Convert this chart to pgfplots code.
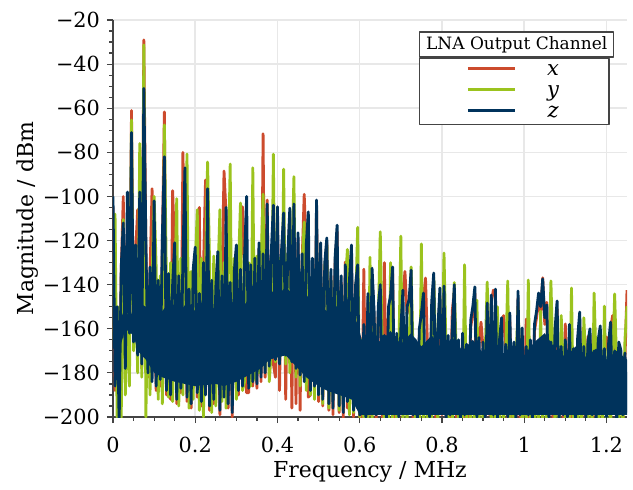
\documentclass[border=0pt]{standalone}
\usepackage{fontspec}
\setmainfont{DejaVu Serif}
\usepackage{pgfplots}
\pgfplotsset{compat=1.18}
\usepackage{pgfplotstable}
\usetikzlibrary{calc}
\definecolor{chx}{HTML}{CC4B2D}
\definecolor{chy}{HTML}{9BC31E}
\definecolor{chz}{HTML}{00335C}
\definecolor{gridgray}{HTML}{E8E8E8}
\definecolor{axgray}{HTML}{444444}

% spectrum of the three channels, MHz vs dBm
\pgfplotstableread{
x r g b
0.000 -105 -165 -100
0.005 -188 -108 -186
0.010 -152 -200 -150
0.015 -200 -150 -203
0.020 -134 -201 -132
0.025 -100 -110.5 -112
0.030 -176 -190 -178
0.035 -120 -145 -98
0.040 -165 -186 -162
0.045 -61 -65.4 -71
0.050 -168 -170 -166
0.055 -125 -135 -122
0.060 -106 -180 -172
0.065 -130 -76 -98
0.070 -178 -182 -176
0.075 -29 -31.3 -51
0.080 -124 -200 -120
0.085 -182 -140 -180
0.090 -135 -190 -132
0.095 -96.5 -138 -184
0.100 -140 -100 -102
0.105 -188 -132 -186
0.110 -140 -192 -138
0.115 -186 -136 -183
0.120 -121 -194 -118
0.125 -61.7 -67.6 -82
0.130 -190 -140 -188
0.135 -138 -191 -135
0.140 -192 -130 -190
0.145 -97.4 -193 -140
0.150 -124 -145 -121
0.155 -194 -101 -192
0.160 -139 -195 -136
0.165 -189 -128 -187
0.170 -80 -190 -128
0.175 -132 -135 -87
0.180 -193 -80.8 -191
0.185 -145 -196 -142
0.190 -196 -134 -194
0.195 -136 -192 -133
0.200 -126 -131 -123
0.205 -191 -106 -189
0.210 -105 -197 -144
0.215 -195 -128 -193
0.220 -133 -200 -130
0.225 -92.6 -133 -190
0.230 -140 -84.4 -96.5
0.235 -197 -131 -195
0.240 -141 -198 -138
0.245 -194 -127 -192
0.250 -144 -195 -141
0.255 -128 -137 -125
0.260 -199 -106 -197
0.265 -139 -193 -136
0.270 -88.5 -130 -191
0.275 -108 -196 -105
0.280 -196 -134 -194
0.285 -142 -85.3 -139
0.290 -200 -190 -198
0.295 -130 -128 -134
0.300 -125 -192 -122
0.305 -190 -132 -188
0.310 -136 -103 -133
0.315 -104.7 -188 -186
0.320 -130 -184 -127
0.325 -189 -135 -100
0.330 -189 -130 -187
0.335 -134 -186 -131
0.340 -186 -87 -184
0.345 -131 -183 -128
0.350 -187 -127 -185
0.355 -124 -180 -121
0.360 -184 -130 -182
0.365 -71.6 -99 -126
0.370 -182 -178 -180
0.375 -101.6 -128 -103.4
0.380 -179 -184 -177
0.385 -128 -170 -125
0.390 -176 -80.8 -104
0.395 -182 -175 -174
0.400 -107 -165 -104.7
0.405 -188 -128 -176
0.410 -127 -172 -124
0.415 -110 -87.6 -107.5
0.420 -192 -176 -172
0.425 -130 -126 -127
0.430 -108 -180 -105.3
0.435 -196 -130 -175
0.440 -106 -91 -103.4
0.445 -194 -182 -178
0.450 -119 -128 -116.5
0.455 -197 -186 -181
0.460 -129 -131 -126
0.465 -99 -111.6 -184
0.470 -125 -188 -122
0.475 -191 -129 -107
0.480 -190 -190 -188
0.485 -131 -134 -128
0.490 -189 -192 -186
0.495 -104 -118 -101.6
0.500 -193 -190 -190
0.505 -124 -135 -121
0.510 -195 -194 -192
0.515 -133 -132 -130
0.520 -121 -122 -118.8
0.525 -197 -196 -194
0.530 -136 -138 -133
0.535 -199 -192 -196
0.540 -131 -140 -128
0.545 -116 -125 -113
0.550 -198 -197 -195
0.555 -139 -141 -136
0.560 -201 -195 -198
0.565 -129.7 -140 -131
0.570 -196 -124 -193
0.575 -141 -199 -138
0.580 -125 -145 -122
0.585 -200 -198 -197
0.590 -141 -150 -140
0.595 -134 -114 -131
0.600 -202 -200 -199
0.605 -201 -165 -198
0.610 -133 -203 -158
0.615 -202 -170 -200
0.620 -147 -204 -144
0.625 -199 -127.6 -196
0.630 -136 -202 -132.5
0.635 -155 -160 -152
0.640 -202 -175 -199
0.645 -153 -158 -150
0.650 -143 -116 -140
0.655 -200 -172 -197
0.660 -130 -205 -163
0.665 -203 -170 -201
0.670 -153 -204 -150
0.675 -148 -130 -145
0.680 -135 -203 -132
0.685 -201 -168 -198
0.690 -165 -204 -162
0.695 -203 -172 -200
0.700 -163 -118 -160
0.705 -145 -203 -142.5
0.710 -134 -171 -196
0.715 -153 -205 -150
0.720 -150 -170 -147
0.725 -137 -132 -133.4
0.730 -202 -174 -199
0.735 -168 -204 -165
0.740 -204 -172 -202
0.745 -163 -203 -160
0.750 -156 -121.5 -153
0.755 -147 -204 -143.8
0.760 -137 -170 -197
0.765 -169 -205 -166
0.770 -203 -173 -200
0.775 -151 -204 -148
0.780 -138 -136.6 -134.7
0.785 -201 -172 -198
0.790 -163 -203 -160
0.795 -145 -168 -141.5
0.800 -199 -174 -196
0.805 -144 -125.7 -140.6
0.810 -204 -171 -201
0.815 -166 -205 -163
0.820 -202 -173 -199
0.825 -152 -204 -160
0.830 -143 -139 -140
0.835 -200 -174 -197
0.840 -168 -203 -165
0.845 -204 -172 -202
0.850 -165 -205 -162
0.855 -202 -131 -199
0.860 -170 -204 -167
0.865 -201 -173 -198
0.870 -159 -203 -156
0.875 -153 -175 -150
0.880 -144 -204 -141
0.885 -203 -147 -200
0.890 -167 -205 -164
0.895 -157 -174 -197
0.900 -169 -204 -166
0.905 -205 -172 -203
0.910 -151 -138.8 -148.3
0.915 -199 -174 -196
0.920 -148 -203 -144.7
0.925 -142.5 -173 -199
0.930 -145 -205 -142
0.935 -204 -150 -201
0.940 -168 -203 -165
0.945 -158 -175 -155
0.950 -154 -204 -198
0.955 -170 -173 -167
0.960 -203 -138.3 -200
0.965 -156 -205 -152.8
0.970 -200 -174 -197
0.975 -169 -204 -166
0.980 -204 -175 -202
0.985 -146 -150 -142.9
0.990 -202 -176 -199
0.995 -163 -204 -159.6
1.000 -199 -174 -196
1.005 -155.6 -205 -168
1.010 -202 -137.9 -199
1.015 -168 -204 -165
1.020 -204 -176 -201
1.025 -161 -205 -158
1.030 -155 -175 -152
1.035 -147 -204 -143.8
1.040 -153 -152 -150
1.045 -136.9 -203 -137.4
1.050 -158 -174 -155
1.055 -148 -205 -149.2
1.060 -203 -176 -200
1.065 -169 -138.3 -166
1.070 -201 -175 -198
1.075 -163 -204 -160
1.080 -151 -176 -147.4
1.085 -204 -205 -202
1.090 -171 -154 -168
1.095 -202 -177 -199
1.100 -157.8 -204 -165
1.105 -203 -175 -200
1.110 -161 -205 -158
1.115 -200 -141.5 -197
1.120 -172 -204 -169
1.125 -205 -176 -203
1.130 -167 -203 -164
1.135 -156 -177 -152.4
1.140 -201 -205 -198
1.145 -171 -155 -168
1.150 -204 -176 -201
1.155 -163.7 -204 -166
1.160 -163 -177 -160
1.165 -202 -205 -199
1.170 -173 -143.8 -170
1.175 -204 -176 -202
1.180 -168 -204 -165
1.185 -162 -178 -158.7
1.190 -201 -205 -198
1.195 -172 -149.7 -169
1.200 -163.7 -204 -200
1.205 -170 -177 -167
1.210 -160 -205 -157
1.215 -154 -176 -197
1.220 -173 -144.2 -170
1.225 -205 -178 -203
1.230 -169 -204 -166
1.235 -172 -177 -169.6
1.240 -202 -205 -199
1.245 -174 -165 -171
1.250 -142.5 -149.7 -198
}\spec

% dense core of the z noise floor (upper edge, then lower edge back)
\pgfplotstableread{
x y
0.012 -168
0.020 -155
0.030 -150
0.040 -156
0.050 -150
0.060 -152
0.070 -149
0.080 -150
0.100 -148
0.120 -152
0.140 -147
0.160 -153
0.180 -148
0.200 -152
0.220 -147
0.240 -152
0.260 -146
0.280 -150
0.300 -146
0.320 -149
0.340 -144
0.360 -147
0.380 -142
0.400 -145
0.420 -141
0.440 -145
0.460 -142
0.480 -147
0.500 -149
0.520 -152
0.540 -149
0.560 -154
0.580 -152
0.595 -158
0.605 -165
0.625 -160
0.650 -166
0.675 -161
0.700 -167
0.725 -162
0.750 -168
0.775 -163
0.800 -169
0.825 -164
0.850 -170
0.875 -165
0.900 -171
0.925 -166
0.950 -172
0.975 -167
1.000 -172
1.025 -166
1.050 -162
1.075 -169
1.100 -173
1.125 -168
1.150 -173
1.175 -169
1.200 -174
1.225 -170
1.250 -174
1.250 -199
0.600 -199
0.580 -192
0.550 -190
0.520 -188
0.500 -186
0.470 -182
0.440 -176
0.420 -172
0.400 -173
0.380 -174
0.360 -178
0.330 -181
0.300 -184
0.270 -186
0.250 -185
0.200 -186
0.150 -184
0.120 -182
0.100 -180
0.080 -174
0.060 -170
0.050 -163
0.030 -160
0.012 -172
}\core

\begin{document}
\begin{tikzpicture}
\begin{axis}[
    scale only axis, width=257pt, height=198.5pt,
    xmin=0, xmax=1.25, ymin=-200, ymax=-20,
    axis x line*=bottom, axis y line*=left,
    axis line style={draw=axgray, line width=0.7pt},
    tick style={draw=axgray, line width=0.6pt},
    tick align=outside,
    major tick length=3pt, minor tick length=1.8pt,
    xtick={0,0.2,0.4,0.6,0.8,1,1.2},
    xticklabels={0,0.2,0.4,0.6,0.8,1,1.2},
    minor x tick num=3,
    ytick={-200,-180,-160,-140,-120,-100,-80,-60,-40,-20},
    yticklabels={−200,−180,−160,−140,−120,−100,−80,−60,−40,−20},
    minor y tick num=3,
    grid=major, major grid style={draw=gridgray, line width=0.75pt},
    ticklabel style={font=\fontsize{10.4}{12}\selectfont},
    xticklabel style={yshift=-3.5pt},
    label style={font=\fontsize{11}{13}\selectfont},
    xlabel={Frequency / MHz}, ylabel={Magnitude / dBm},
    xlabel style={yshift=2.5pt},
    ylabel shift=-4.5pt,
    legend cell align=center,
    legend image code/.code={\draw[#1, line width=1.2pt] (0pt,1.2pt) -- (23.5pt,1.2pt);},
    legend style={at={(axis description cs:0.5953,0.9043)}, anchor=north west,
        draw=axgray, line width=0.75pt, fill=white,
        inner xsep=23.5pt, inner ysep=0.75pt, row sep=0pt,
        nodes={inner sep=1.5pt, text height=6pt, text depth=1.5pt},
        font=\fontsize{10.5}{12}\selectfont\itshape,
        /tikz/every odd column/.append style={column sep=14pt}},
    line join=round,
]
\addplot[chx, line width=1.4pt] table[x=x, y=r] {\spec};
\addplot[chy, line width=1.4pt] table[x=x, y=g] {\spec};
\addplot[fill=chz, draw=none, forget plot] table[x=x, y=y] {\core};
\addplot[chz, line width=1.4pt] table[x=x, y=b] {\spec};
\legend{x, y, z}
\node[draw=axgray, line width=0.75pt, fill=white, minimum width=97pt,
    minimum height=12.5pt, inner sep=0pt, anchor=south west,
    font=\fontsize{8.5}{10}\selectfont]
    at (axis description cs:0.5953,0.9043) {LNA Output Channel};
\end{axis}
\path ($(current axis.south west)+(-56.5pt,-33pt)$) rectangle ($(current axis.north east)+(3pt,10pt)$);
\end{tikzpicture}
\end{document}
